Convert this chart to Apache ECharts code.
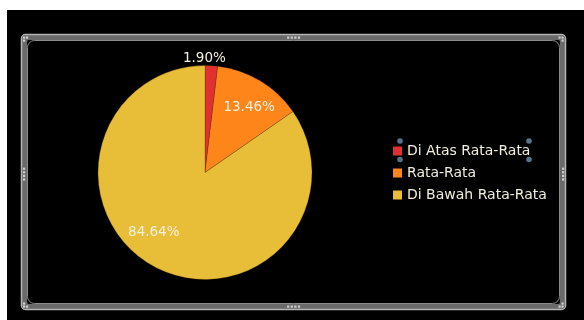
<!DOCTYPE html>
<html>
<head>
<meta charset="utf-8">
<script src="https://cdn.jsdelivr.net/npm/echarts@6/dist/echarts.min.js"></script>
<style>
html,body{margin:0;padding:0;background:#ffffff;}
#c{width:584px;height:320px;}
</style>
</head>
<body>
<div id="c"></div>
<script>
const categories = ['Di Atas Rata-Rata', 'Rata-Rata', 'Di Bawah Rata-Rata'];
const values = [1.90, 13.46, 84.64];
const colors = ['#E0302F', '#FE851A', '#E8BE38'];

const chart = echarts.init(document.getElementById('c'), null, {renderer: 'canvas'});

const frameLight = '#b4b4b4';
const frameDark = '#6a6a6a';
const dotColor = '#d0d0d0';

function dots(cx, cy, horizontal) {
  const arr = [];
  for (let i = 0; i < 4; i++) {
    const off = (i - 1.5) * 3.6;
    arr.push({
      type: 'rect', silent: true,
      shape: {x: (horizontal ? cx + off : cx) - 1, y: (horizontal ? cy : cy + off) - 1, width: 2.2, height: 2.2},
      style: {fill: dotColor}, z: 20
    });
  }
  return arr;
}
function cornerDots(cx, cy, sx, sy) {
  return [[0,0],[3*sx,0],[0,3*sy]].map(p => ({
    type: 'rect', silent: true,
    shape: {x: cx + p[0] - 1, y: cy + p[1] - 1, width: 2.2, height: 2.2},
    style: {fill: dotColor}, z: 20
  }));
}
function handle(x, y) {
  return {type: 'circle', silent: true, shape: {cx: x, cy: y, r: 2.8}, style: {fill: '#56758c'}, z: 30};
}

const graphics = [
  {type: 'rect', silent: true, shape: {x: 7, y: 10, width: 577, height: 310}, style: {fill: '#000000'}, z: -10},
  {type: 'rect', silent: true, shape: {x: 24, y: 37, width: 539, height: 270, r: 5}, style: {fill: null, stroke: frameDark, lineWidth: 6}, z: 10},
  {type: 'rect', silent: true, shape: {x: 21.5, y: 34.5, width: 544, height: 275, r: 4}, style: {fill: null, stroke: frameLight, lineWidth: 1.5}, z: 11},
  {type: 'rect', silent: true, shape: {x: 27.5, y: 40.5, width: 532, height: 263, r: 7}, style: {fill: null, stroke: '#8a8a8a', lineWidth: 1}, z: 11},
  ...dots(293.5, 37.5, true),
  ...dots(293.5, 306.5, true),
  ...dots(24, 174, false),
  ...dots(563, 174, false),
  ...cornerDots(24, 37.5, 1, 1),
  ...cornerDots(562.5, 37.5, -1, 1),
  ...cornerDots(24, 306.5, 1, -1),
  ...cornerDots(562.5, 306.5, -1, -1),
  handle(400, 141), handle(529, 141), handle(400, 159.5), handle(529, 159.5)
];

const labelOffsets = [[-4, -58], [15, -17], [-25, 10]];

chart.setOption({
  backgroundColor: 'transparent',
  animation: false,
  graphic: graphics,
  legend: {
    orient: 'vertical',
    left: 388,
    top: 139,
    itemWidth: 9,
    itemHeight: 9,
    itemGap: 8,
    itemTextGap: 5,
    icon: 'rect',
    itemStyle: {borderWidth: 0},
    data: categories,
    textStyle: {color: '#f2eedc', fontSize: 14, fontFamily: 'DejaVu Sans'}
  },
  series: [{
    type: 'pie',
    center: [205, 172.5],
    radius: 107,
    startAngle: 90,
    clockwise: true,
    data: categories.map((name, i) => ({name: name, value: values[i], itemStyle: {color: colors[i]}})),
    itemStyle: {borderColor: 'rgba(70,45,0,0.45)', borderWidth: 0.6},
    label: {
      show: true,
      position: 'inside',
      formatter: p => p.value.toFixed(2) + '%',
      color: '#f4f0de',
      fontSize: 13.5,
      fontFamily: 'DejaVu Sans'
    },
    labelLine: {show: false},
    labelLayout: params => ({dx: labelOffsets[params.dataIndex][0], dy: labelOffsets[params.dataIndex][1]}),
    emphasis: {disabled: true}
  }]
});
</script>
</body>
</html>
